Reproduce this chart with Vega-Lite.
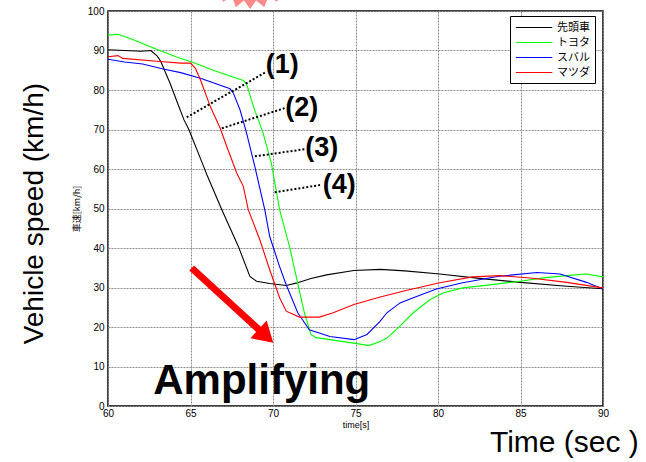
{
  "$schema": "https://vega.github.io/schema/vega-lite/v6.json",
  "width": 495,
  "height": 395,
  "autosize": {"type": "none"},
  "padding": {"left": 108, "top": 11, "right": 43, "bottom": 56},
  "background": "white",
  "config": {
    "font": "Liberation Sans",
    "view": {"stroke": "black", "strokeWidth": 1.5},
    "axis": {
      "ticks": false,
      "domain": false,
      "grid": true,
      "gridColor": "#8c8c8c",
      "gridDash": [2, 1],
      "gridWidth": 1,
      "labelFont": "Liberation Sans",
      "labelFontSize": 10,
      "labelColor": "black",
      "labelOverlap": false,
      "titleColor": "black",
      "titleFontWeight": "normal"
    }
  },
  "datasets": {
    "speed": [
      {"car": "先頭車", "t": 60, "v": 90.2},
      {"car": "先頭車", "t": 61, "v": 90.0},
      {"car": "先頭車", "t": 62, "v": 89.8},
      {"car": "先頭車", "t": 62.6, "v": 90.0},
      {"car": "先頭車", "t": 63.0, "v": 88.5},
      {"car": "先頭車", "t": 63.2, "v": 87.2},
      {"car": "先頭車", "t": 63.76, "v": 81.7},
      {"car": "先頭車", "t": 64.26, "v": 76.2},
      {"car": "先頭車", "t": 64.6, "v": 72.5},
      {"car": "先頭車", "t": 64.9, "v": 70.0},
      {"car": "先頭車", "t": 65.8, "v": 60.6},
      {"car": "先頭車", "t": 66.0, "v": 58.5},
      {"car": "先頭車", "t": 66.9, "v": 49.7},
      {"car": "先頭車", "t": 67.9, "v": 40.4},
      {"car": "先頭車", "t": 68.6, "v": 32.8},
      {"car": "先頭車", "t": 69.0, "v": 31.6},
      {"car": "先頭車", "t": 69.8, "v": 31.0},
      {"car": "先頭車", "t": 70.8, "v": 30.5},
      {"car": "先頭車", "t": 71.4, "v": 31.1},
      {"car": "先頭車", "t": 72.3, "v": 32.3},
      {"car": "先頭車", "t": 73.25, "v": 33.2},
      {"car": "先頭車", "t": 74.9, "v": 34.3},
      {"car": "先頭車", "t": 76.5, "v": 34.6},
      {"car": "先頭車", "t": 78, "v": 34.2},
      {"car": "先頭車", "t": 80.1, "v": 33.4},
      {"car": "先頭車", "t": 82.5, "v": 32.3},
      {"car": "先頭車", "t": 85, "v": 31.3},
      {"car": "先頭車", "t": 87.8, "v": 30.3},
      {"car": "先頭車", "t": 90, "v": 29.7},
      {"car": "トヨタ", "t": 60, "v": 93.9},
      {"car": "トヨタ", "t": 60.6, "v": 94.1},
      {"car": "トヨタ", "t": 61.5, "v": 92.8},
      {"car": "トヨタ", "t": 62.9, "v": 90.4},
      {"car": "トヨタ", "t": 64.4, "v": 88.0},
      {"car": "トヨタ", "t": 65.0, "v": 87.2},
      {"car": "トヨタ", "t": 66.5, "v": 84.8},
      {"car": "トヨタ", "t": 68.2, "v": 82.4},
      {"car": "トヨタ", "t": 68.4, "v": 81.5},
      {"car": "トヨタ", "t": 68.8, "v": 76.0},
      {"car": "トヨタ", "t": 69.4, "v": 69.1},
      {"car": "トヨタ", "t": 69.9, "v": 61.5},
      {"car": "トヨタ", "t": 70.4, "v": 49.7},
      {"car": "トヨタ", "t": 71.0, "v": 40.4},
      {"car": "トヨタ", "t": 71.9, "v": 23.6},
      {"car": "トヨタ", "t": 72.3, "v": 18.1},
      {"car": "トヨタ", "t": 72.6, "v": 17.3},
      {"car": "トヨタ", "t": 73.45, "v": 16.8},
      {"car": "トヨタ", "t": 75.1, "v": 15.8},
      {"car": "トヨタ", "t": 75.8, "v": 15.3},
      {"car": "トヨタ", "t": 76.5, "v": 16.3},
      {"car": "トヨタ", "t": 76.9, "v": 17.2},
      {"car": "トヨタ", "t": 77.7, "v": 20.2},
      {"car": "トヨタ", "t": 78.5, "v": 23.6},
      {"car": "トヨタ", "t": 79.5, "v": 26.9},
      {"car": "トヨタ", "t": 80.3, "v": 28.6},
      {"car": "トヨタ", "t": 81.5, "v": 29.9},
      {"car": "トヨタ", "t": 83, "v": 30.6},
      {"car": "トヨタ", "t": 84.97, "v": 31.6},
      {"car": "トヨタ", "t": 86.5, "v": 32.5},
      {"car": "トヨタ", "t": 87.8, "v": 33.0},
      {"car": "トヨタ", "t": 89.0, "v": 33.4},
      {"car": "トヨタ", "t": 90, "v": 32.7},
      {"car": "スバル", "t": 60, "v": 87.8},
      {"car": "スバル", "t": 61, "v": 87.1},
      {"car": "スバル", "t": 62.1, "v": 86.6},
      {"car": "スバル", "t": 63.35, "v": 85.3},
      {"car": "スバル", "t": 64.4, "v": 84.4},
      {"car": "スバル", "t": 65.6, "v": 83.0},
      {"car": "スバル", "t": 67.4, "v": 80.3},
      {"car": "スバル", "t": 67.6, "v": 79.2},
      {"car": "スバル", "t": 68.0, "v": 75.0},
      {"car": "スバル", "t": 68.4, "v": 69.1},
      {"car": "スバル", "t": 68.9, "v": 60.6},
      {"car": "スバル", "t": 69.5, "v": 49.7},
      {"car": "スバル", "t": 69.8, "v": 42.9},
      {"car": "スバル", "t": 70.4, "v": 35.3},
      {"car": "スバル", "t": 70.8, "v": 30.7},
      {"car": "スバル", "t": 71.5, "v": 23.6},
      {"car": "スバル", "t": 72.2, "v": 19.3},
      {"car": "スバル", "t": 73.45, "v": 17.6},
      {"car": "スバル", "t": 74.9, "v": 16.8},
      {"car": "スバル", "t": 75.7, "v": 18.1},
      {"car": "スバル", "t": 76.5, "v": 21.5},
      {"car": "スバル", "t": 76.9, "v": 23.6},
      {"car": "スバル", "t": 77.7, "v": 26.1},
      {"car": "スバル", "t": 78.5, "v": 27.4},
      {"car": "スバル", "t": 79.9, "v": 29.6},
      {"car": "スバル", "t": 81.5, "v": 31.2},
      {"car": "スバル", "t": 83.6, "v": 32.8},
      {"car": "スバル", "t": 86.0, "v": 33.8},
      {"car": "スバル", "t": 87.4, "v": 33.4},
      {"car": "スバル", "t": 89.0, "v": 31.3},
      {"car": "スバル", "t": 90, "v": 29.6},
      {"car": "マツダ", "t": 60, "v": 88.4},
      {"car": "マツダ", "t": 60.6, "v": 88.7},
      {"car": "マツダ", "t": 60.9, "v": 88.0},
      {"car": "マツダ", "t": 63.15, "v": 87.2},
      {"car": "マツダ", "t": 64.4, "v": 86.8},
      {"car": "マツダ", "t": 65.0, "v": 86.8},
      {"car": "マツダ", "t": 65.3, "v": 85.5},
      {"car": "マツダ", "t": 65.6, "v": 82.6},
      {"car": "マツダ", "t": 66.2, "v": 75.8},
      {"car": "マツダ", "t": 66.8, "v": 70.3},
      {"car": "マツダ", "t": 67.2, "v": 65.7},
      {"car": "マツダ", "t": 67.8, "v": 59.0},
      {"car": "マツダ", "t": 68.2, "v": 55.6},
      {"car": "マツダ", "t": 68.5, "v": 49.7},
      {"car": "マツダ", "t": 69.2, "v": 42.1},
      {"car": "マツダ", "t": 69.8, "v": 34.5},
      {"car": "マツダ", "t": 70.4, "v": 27.4},
      {"car": "マツダ", "t": 70.8, "v": 24.0},
      {"car": "マツダ", "t": 71.6, "v": 22.5},
      {"car": "マツダ", "t": 72.8, "v": 22.5},
      {"car": "マツダ", "t": 73.65, "v": 23.6},
      {"car": "マツダ", "t": 74.9, "v": 25.7},
      {"car": "マツダ", "t": 76.5, "v": 27.6},
      {"car": "マツダ", "t": 78, "v": 29.2},
      {"car": "マツダ", "t": 80.1, "v": 31.2},
      {"car": "マツダ", "t": 82.1, "v": 32.7},
      {"car": "マツダ", "t": 83.75, "v": 33.0},
      {"car": "マツダ", "t": 85.6, "v": 32.4},
      {"car": "マツダ", "t": 87.8, "v": 31.3},
      {"car": "マツダ", "t": 90, "v": 29.9}
    ],
    "leaders": [
      {"t": 64.77, "v": 73.1, "t2": 69.62, "v2": 84.65},
      {"t": 66.9, "v": 70.3, "t2": 70.7, "v2": 75.4},
      {"t": 68.9, "v": 63.2, "t2": 71.9, "v2": 65.0},
      {"t": 70.1, "v": 54.1, "t2": 72.95, "v2": 56.0}
    ],
    "labels": [
      {"t": 70.56, "v": 86.35, "label": "(1)"},
      {"t": 71.74, "v": 75.4, "label": "(2)"},
      {"t": 72.95, "v": 65.3, "label": "(3)"},
      {"t": 74.02, "v": 56.0, "label": "(4)"}
    ],
    "amp": [{"t": 69.32, "v": 3.16, "text": "Amplifying"}],
    "arrow": [{"t": 65.07, "v": 34.94, "t2": 69.57, "v2": 17.7}],
    "burst": [{"t": 68.61, "v": 114.4}],
    "ytitle": [{"t": 56.06, "v": 48.7, "text": "Vehicle speed (km/h)"}],
    "xtitle": [{"t": 83.15, "v": -11.76, "text": "Time (sec )"}]
  },
  "encoding": {
    "x": {"field": "t", "type": "quantitative", "scale": {"domain": [60, 90], "nice": false, "zero": false},
      "axis": {"values": [60, 65, 70, 75, 80, 85, 90], "title": "time[s]", "titleFontSize": 9, "titlePadding": 2, "labelPadding": 2, "labelFlush": false}},
    "y": {"field": "v", "type": "quantitative", "scale": {"domain": [0, 100], "nice": false},
      "axis": {"values": [0, 10, 20, 30, 40, 50, 60, 70, 80, 90, 100], "labelOverlap": false, "title": "車速[km/h]", "titleFont": "Noto Sans CJK JP", "titleFontSize": 9, "titlePadding": 6, "labelPadding": 4, "labelFlush": false}}
  },
  "layer": [
    {
      "data": {"name": "burst"},
      "mark": {"type": "point", "filled": true, "clip": false, "color": "#ff8a8a", "opacity": 1, "size": 12100,
        "shape": "M1,0L0.843,0.111L0.966,0.259L0.785,0.325L0.866,0.5L0.674,0.517L0.707,0.707L0.517,0.674L0.5,0.866L0.325,0.785L0.259,0.966L0.111,0.843L0,1L-0.111,0.843L-0.259,0.966L-0.325,0.785L-0.5,0.866L-0.517,0.674L-0.707,0.707L-0.674,0.517L-0.866,0.5L-0.785,0.325L-0.966,0.259L-0.843,0.111L-1,0L-0.843,-0.111L-0.966,-0.259L-0.785,-0.325L-0.866,-0.5L-0.674,-0.517L-0.707,-0.707L-0.517,-0.674L-0.5,-0.866L-0.325,-0.785L-0.259,-0.966L-0.111,-0.843L0,-1L0.111,-0.843L0.259,-0.966L0.325,-0.785L0.5,-0.866L0.517,-0.674L0.707,-0.707L0.674,-0.517L0.866,-0.5L0.785,-0.325L0.966,-0.259L0.843,-0.111Z"}
    },
    {
      "data": {"name": "speed"},
      "mark": {"type": "line", "strokeWidth": 1.1, "clip": true},
      "encoding": {
        "color": {"field": "car", "type": "nominal",
          "scale": {"domain": ["先頭車", "トヨタ", "スバル", "マツダ"], "range": ["#000000", "#00ff00", "#0000ff", "#ff0000"]},
          "legend": {"title": null, "orient": "none", "legendX": 402, "legendY": 5, "symbolType": "M-1,0H5.4", "symbolSize": 130, "symbolStrokeWidth": 1.2,
            "labelFont": "Noto Sans CJK JP", "labelFontSize": 11, "labelColor": "black", "strokeColor": "black", "fillColor": "white", "padding": 5, "rowPadding": 3, "labelOffset": 29}}
      }
    },
    {
      "data": {"name": "leaders"},
      "mark": {"type": "rule", "color": "black", "strokeWidth": 2, "strokeDash": [2, 2]},
      "encoding": {
        "x2": {"field": "t2"},
        "y2": {"field": "v2"}
      }
    },
    {
      "data": {"name": "labels"},
      "mark": {"type": "text", "font": "Liberation Sans", "fontWeight": "bold", "fontSize": 27, "color": "black", "align": "center", "baseline": "middle"},
      "encoding": {"text": {"field": "label"}}
    },
    {
      "data": {"name": "arrow"},
      "mark": {"type": "rule", "color": "#ff0000", "strokeWidth": 7},
      "encoding": {
        "x2": {"field": "t2"},
        "y2": {"field": "v2"}
      }
    },
    {
      "data": {"name": "arrow"},
      "mark": {"type": "point", "filled": true, "color": "#ff0000", "opacity": 1, "size": 400, "angle": 42.6, "shape": "M1,0L-1,-1.2L-1,1.2Z"},
      "encoding": {
        "x": {"field": "t2", "type": "quantitative"},
        "y": {"field": "v2", "type": "quantitative"}
      }
    },
    {
      "data": {"name": "amp"},
      "mark": {"type": "text", "font": "Liberation Sans", "fontWeight": "bold", "fontSize": 42, "color": "black", "align": "center", "baseline": "alphabetic"},
      "encoding": {"text": {"field": "text"}}
    },
    {
      "data": {"name": "ytitle"},
      "mark": {"type": "text", "font": "Liberation Sans", "fontSize": 28, "color": "black", "align": "center", "baseline": "alphabetic", "angle": 270, "clip": false},
      "encoding": {"text": {"field": "text"}}
    },
    {
      "data": {"name": "xtitle"},
      "mark": {"type": "text", "font": "Liberation Sans", "fontSize": 30, "color": "black", "align": "left", "baseline": "alphabetic", "clip": false},
      "encoding": {"text": {"field": "text"}}
    }
  ]
}
